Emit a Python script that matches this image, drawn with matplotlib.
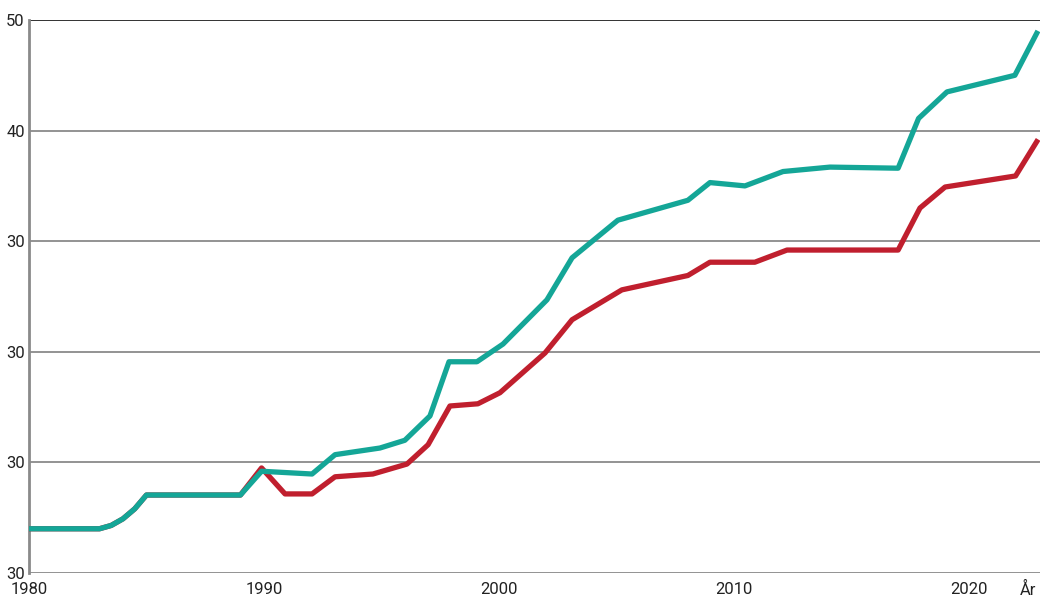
import matplotlib.pyplot as plt

plt.rcParams['font.family'] = ['Roboto', 'DejaVu Sans']

# teal series
teal_years = [1980, 1983, 1983.5, 1984, 1984.5, 1985, 1989, 1989.9, 1992.05, 1993.03, 1994.94, 1996.0,
              1997.07, 1997.88, 1999.07, 2000.18, 2002.05, 2003.12, 2005.07, 2008.05,
              2008.99, 2010.48, 2012.1, 2014.1, 2017.0, 2017.87, 2019.08, 2021.97, 2022.9]
teal_vals = [0.40, 0.40, 0.43, 0.49, 0.58, 0.705, 0.705, 0.92, 0.895, 1.07, 1.13, 1.20,
             1.42, 1.91, 1.91, 2.07, 2.47, 2.85, 3.19, 3.37,
             3.53, 3.50, 3.63, 3.67, 3.66, 4.11, 4.35, 4.50, 4.88]

# red series
red_years = [1980, 1983, 1983.5, 1984, 1984.5, 1985, 1989, 1989.9, 1990.9, 1992.05, 1993.03, 1994.64,
             1996.09, 1996.99, 1997.92, 1999.11, 2000.05, 2001.97, 2003.12, 2005.24,
             2008.05, 2008.99, 2010.9, 2012.27, 2017.0, 2017.93, 2019.0, 2022.0, 2022.9]
red_vals = [0.40, 0.40, 0.43, 0.49, 0.58, 0.705, 0.705, 0.95, 0.715, 0.715, 0.87, 0.895,
            0.985, 1.16, 1.51, 1.53, 1.63, 1.99, 2.29, 2.56,
            2.69, 2.81, 2.81, 2.92, 2.92, 3.30, 3.49, 3.59, 3.90]

y_ticks = [0, 1, 2, 3, 4, 5]
y_labels = ['30', '30', '30', '30', '40', '50']
x_ticks = [1980, 1990, 2000, 2010, 2020]
x_labels = ['1980', '1990', '2000', '2010', '2020']

fig = plt.figure(figsize=(10.4, 5.98), dpi=100)
ax = fig.add_axes([29 / 1040, 1 - 573 / 598, 1 - 29 / 1040, (573 - 20) / 598])

for t in y_ticks:
    col = '#222222' if t == y_ticks[-1] else '#8a8a8a'
    ax.axhline(t, color=col, lw=1.3, zorder=1)

ax.plot(red_years, red_vals, color='#c01f2e', lw=3.8, zorder=3)
ax.plot(teal_years, teal_vals, color='#14a697', lw=3.8, zorder=4)

ax.set_xlim(1980, 2023.04)
ax.set_ylim(0, 5)
ax.set_yticks(y_ticks)
ax.set_yticklabels(y_labels)
ax.set_xticks(x_ticks + [2022.55])
ax.set_xticklabels(x_labels + ['År'])
ax.tick_params(axis='both', length=0, labelsize=12, colors='#222222')
ax.tick_params(axis='y', pad=3)
ax.tick_params(axis='x', pad=6.5)

for s in ['top', 'right', 'bottom']:
    ax.spines[s].set_visible(False)
ax.spines['left'].set_color('#8a8a8a')
ax.spines['left'].set_linewidth(2)

fig.savefig('out.png', dpi=100)
